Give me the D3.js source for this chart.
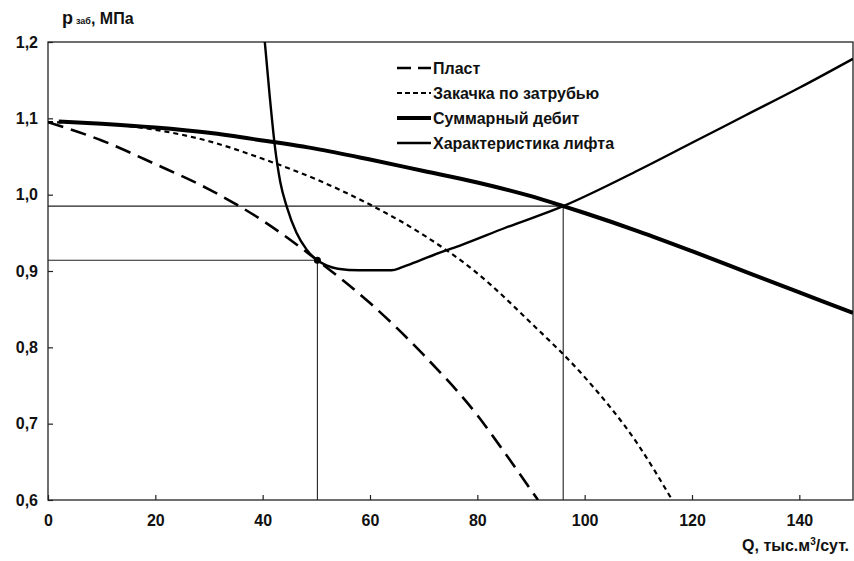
<!DOCTYPE html>
<html lang="ru">
<head>
  <meta charset="utf-8">
  <title>Характеристика лифта</title>
  <script src="https://d3js.org/d3.v7.min.js"></script>
  <style>
    body { margin: 0; background: #fff; }
    svg { display: block; }
    text { font-family: "Liberation Sans", Arial, sans-serif; font-weight: bold; fill: #111; }
    .tick line { stroke: #222; stroke-width: 1.2; }
    .tick text { font-size: 16px; }
  </style>
</head>
<body>
  <svg width="854" height="561"></svg>
  <script>
    // Данные: [Q, p]
    const plast = [[0, 1.095], [10, 1.071], [20, 1.040], [30, 1.007], [40, 0.966], [50, 0.915],
      [60, 0.858], [70, 0.790], [80, 0.711], [85, 0.663], [91.3, 0.6]];
    const zakachka = [[0, 1.095], [10, 1.093], [20, 1.085], [30, 1.070], [40, 1.047], [50, 1.020],
      [60, 0.987], [70, 0.947], [80, 0.897], [90, 0.832], [100, 0.761], [110, 0.672], [116.3, 0.6]];
    const summa = [[2, 1.096], [10, 1.093], [20, 1.088], [30, 1.081], [40, 1.071], [50, 1.060],
      [60, 1.046], [70, 1.031], [80, 1.016], [90, 0.998], [96, 0.985], [100, 0.976], [110, 0.952],
      [120, 0.926], [130, 0.899], [140, 0.872], [150, 0.845]];
    const lift = [[40.4, 1.2], [41.3, 1.13], [42.3, 1.062], [43.3, 1.016], [44.5, 0.984], [46.3, 0.950],
      [48.2, 0.928], [50.2, 0.914], [52, 0.907], [54, 0.903], [58, 0.901], [64, 0.901], [66, 0.905],
      [69, 0.913], [73, 0.924], [77, 0.934], [85, 0.956], [96, 0.985], [110, 1.032], [120, 1.068],
      [130, 1.104], [140, 1.140], [150, 1.178]];

    // рабочие точки
    const points = [[50.2, 0.914], [96, 0.985]];

    const xTicks = [0, 20, 40, 60, 80, 100, 120, 140];
    const yTicks = [0.6, 0.7, 0.8, 0.9, 1.0, 1.1, 1.2];

    const legendItems = [
      { name: "Пласт", data: plast, width: 2.6, dash: "16,8" },
      { name: "Закачка по затрубью", data: zakachka, width: 2.2, dash: "5,4" },
      { name: "Суммарный дебит", data: summa, width: 4, dash: null },
      { name: "Характеристика лифта", data: lift, width: 2.4, dash: null }
    ];

    const svg = d3.select("svg");
    const margin = { left: 48, right: 1, top: 42, bottom: 61 };
    const width = 854, height = 561;

    const x = d3.scaleLinear().domain([0, 150]).range([margin.left, width - margin.right]);
    const y = d3.scaleLinear().domain([0.6, 1.2]).range([height - margin.bottom, margin.top]);

    const comma = v => d3.format(".1f")(v).replace(".", ",");

    // оси
    svg.append("g")
      .attr("transform", `translate(0,${y(0.6)})`)
      .call(d3.axisBottom(x).tickValues(xTicks).tickSize(-5).tickPadding(15))
      .call(g => g.select(".domain").remove());

    svg.append("g")
      .attr("transform", `translate(${x(0)},0)`)
      .call(d3.axisLeft(y).tickValues(yTicks).tickSize(-5).tickPadding(10).tickFormat(comma))
      .call(g => g.select(".domain").remove());

    // рамка
    svg.append("rect")
      .attr("x", x(0)).attr("y", y(1.2))
      .attr("width", x(150) - x(0)).attr("height", y(0.6) - y(1.2))
      .attr("fill", "none").attr("stroke", "#222").attr("stroke-width", 1.3);

    // вспомогательные линии к рабочим точкам
    const guides = svg.append("g").attr("stroke", "#222").attr("stroke-width", 1.1).attr("fill", "none");
    points.forEach(p => {
      guides.append("path")
        .attr("d", `M${x(0)},${y(p[1])}H${x(p[0])}V${y(0.6)}`);
    });

    // кривые
    const line = d3.line()
      .x(d => x(d[0]))
      .y(d => y(d[1]))
      .curve(d3.curveMonotoneX);

    svg.append("defs").append("clipPath").attr("id", "clip")
      .append("rect")
      .attr("x", x(0)).attr("y", y(1.2))
      .attr("width", x(150) - x(0)).attr("height", y(0.6) - y(1.2));

    const curves = svg.append("g").attr("clip-path", "url(#clip)");
    legendItems.forEach(s => {
      curves.append("path")
        .datum(s.data)
        .attr("d", line)
        .attr("fill", "none")
        .attr("stroke", "#000")
        .attr("stroke-width", s.width)
        .attr("stroke-dasharray", s.dash);
    });

    svg.append("circle")
      .attr("cx", x(points[0][0])).attr("cy", y(points[0][1]))
      .attr("r", 3.5).attr("fill", "#000");

    // легенда
    const legend = svg.append("g").attr("transform", "translate(397,68)");
    legendItems.forEach((s, i) => {
      const row = legend.append("g").attr("transform", `translate(0,${i * 25})`);
      row.append("line")
        .attr("x1", 0).attr("x2", 34)
        .attr("stroke", "#000")
        .attr("stroke-width", s.width)
        .attr("stroke-dasharray", s.dash ? (i === 0 ? "14,7" : "5,3") : null);
      row.append("text")
        .attr("x", 36).attr("dy", "0.36em")
        .style("font-size", "16px")
        .text(s.name);
    });

    // подписи осей
    const title = svg.append("text").attr("x", 62).attr("y", 24);
    title.append("tspan").style("font-size", "18px").text("p");
    title.append("tspan").style("font-size", "9px").attr("dx", 3).text("заб");
    title.append("tspan").style("font-size", "16px").text(", МПа");

    const xlab = svg.append("text")
      .attr("x", 849).attr("y", 551)
      .attr("text-anchor", "end")
      .style("font-size", "16px");
    xlab.append("tspan").text("Q, тыс.м");
    xlab.append("tspan").style("font-size", "10px").attr("dy", -6).text("3");
    xlab.append("tspan").attr("dy", 6).text("/сут.");
  </script>
</body>
</html>
